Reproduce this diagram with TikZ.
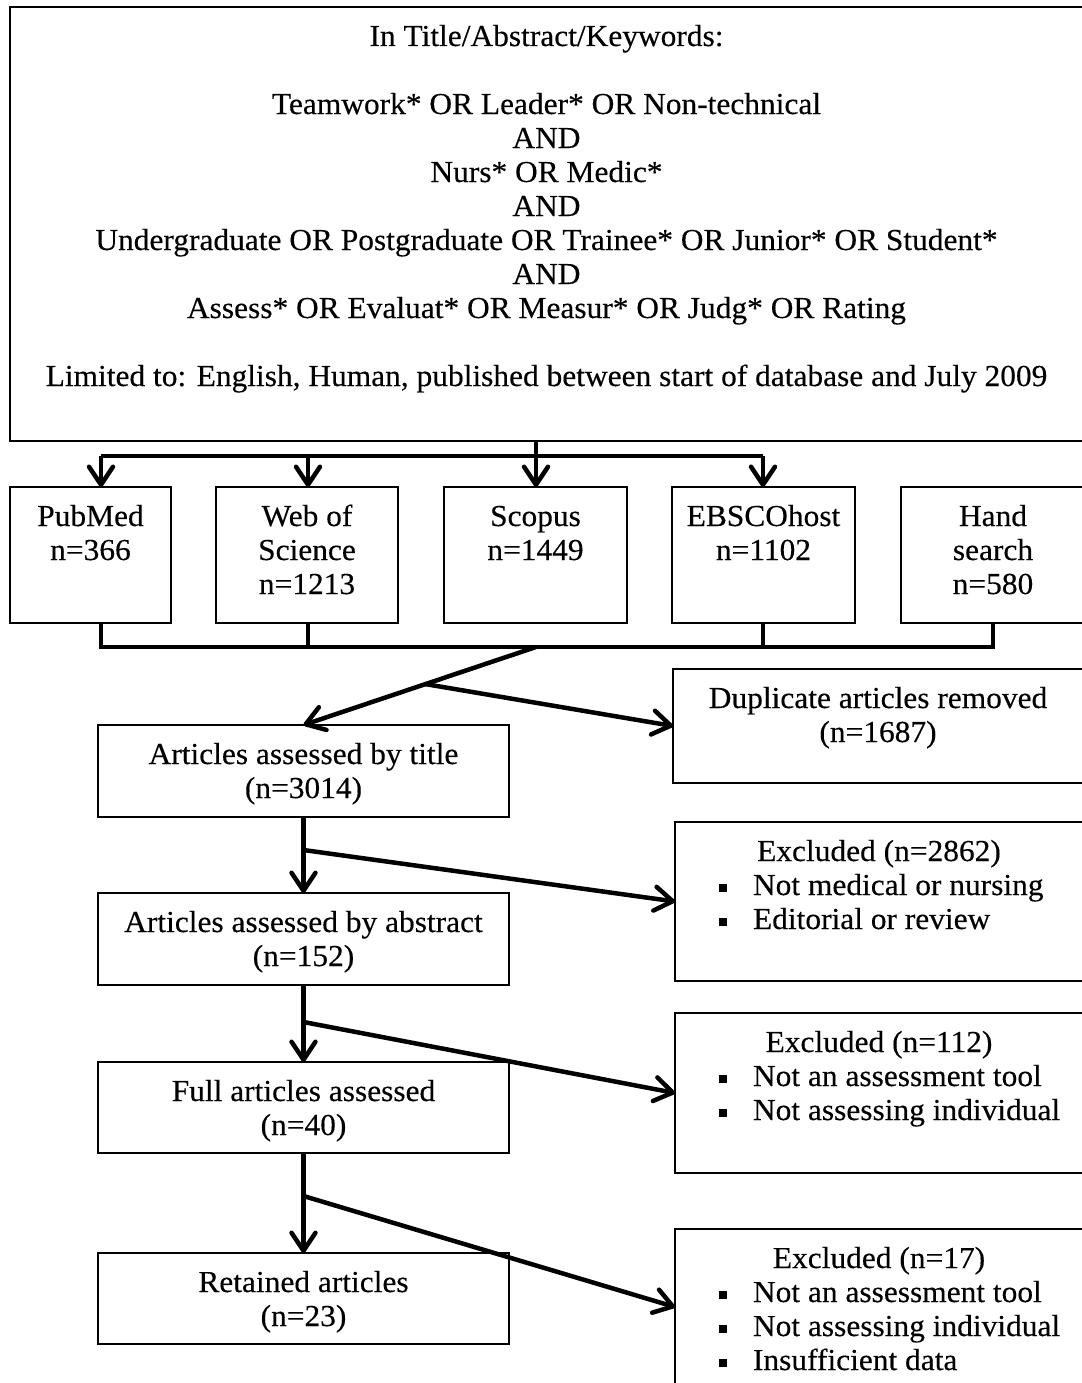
\documentclass[tikz,border=0pt]{standalone}
\usepackage{fontspec}
\setmainfont{Liberation Serif}[FakeStretch=1.03,FakeBold=0.3]
\usetikzlibrary{arrows.meta}
\newcommand\fs{\fontsize{30.5}{34}\selectfont}
\newcommand\bxtext[3]{\parbox[c][#2][t]{#1}{\fs\lineskiplimit=-100pt\centering\rule{0pt}{39pt}#3\par}}
\newcommand\bitem[1]{\par\raggedright\hspace*{44pt}\makebox[34pt][l]{\rule[3pt]{8pt}{8pt}}\mbox{#1}}
\tikzset{
  flowbox/.style={draw=black, line width=1.3pt, inner sep=0pt, outer sep=0pt, anchor=north west},
  conn/.style={line width=4.5pt},
  arr/.style={line width=4.5pt, -{Straight Barb[length=18pt,width=24pt,round]}},
}
\begin{document}
\begin{tikzpicture}[x=1pt,y=-1pt]
\useasboundingbox (0,0) rectangle (1081,1383);
% search box
\node[flowbox] (search) at (10,7) {\bxtext{1073pt}{434pt}{In Title/Abstract/Keywords:\\ \mbox{}\\
Teamwork* OR Leader* OR Non-technical\\ AND\\ Nurs* OR Medic*\\ AND\\
Undergraduate OR Postgraduate OR Trainee* OR Junior* OR Student*\\ AND\\
Assess* OR Evaluat* OR Measur* OR Judg* OR Rating\\ \mbox{}\\
\mbox{Limited to: English, Human, published between start of database and July 2009}}};
% database boxes
\node[flowbox] (pubmed) at (10,487) {\bxtext{161pt}{136pt}{PubMed\\ n=366}};
\node[flowbox] (wos) at (216,487) {\bxtext{182pt}{136pt}{Web of\\ Science\\ n=1213}};
\node[flowbox] (scopus) at (444,487) {\bxtext{183pt}{136pt}{Scopus\\ n=1449}};
\node[flowbox] (ebsco) at (672,487) {\bxtext{183pt}{136pt}{EBSCOhost\\ n=1102}};
\node[flowbox] (hand) at (901,487) {\bxtext{184pt}{136pt}{Hand\\ search\\ n=580}};
% left column
\node[flowbox] (title) at (98,725) {\bxtext{411pt}{92pt}{Articles assessed by title\\ (n=3014)}};
\node[flowbox] (abstract) at (98,893) {\bxtext{411pt}{92pt}{Articles assessed by abstract\\ (n=152)}};
\node[flowbox] (full) at (98,1062) {\bxtext{411pt}{91pt}{Full articles assessed\\ (n=40)}};
\node[flowbox] (retained) at (98,1253) {\bxtext{411pt}{91pt}{Retained articles\\ (n=23)}};
% right column
\node[flowbox] (dup) at (673,669) {\bxtext{410pt}{114pt}{Duplicate articles removed\\ (n=1687)}};
\node[flowbox] (exc1) at (675,822) {\bxtext{408pt}{159pt}{Excluded (n=2862)\bitem{Not medical or nursing}\bitem{Editorial or review}}};
\node[flowbox] (exc2) at (675,1013) {\bxtext{408pt}{160pt}{Excluded (n=112)\bitem{Not an assessment tool}\bitem{Not assessing individual}}};
\node[flowbox] (exc3) at (675,1229) {\bxtext{408pt}{156pt}{Excluded (n=17)\bitem{Not an assessment tool}\bitem{Not assessing individual}\bitem{Insufficient data}}};
% junction coordinates
\coordinate (t0) at (536,456);
\coordinate (t1) at (101,456);
\coordinate (t2) at (308,456);
\coordinate (t4) at (763,456);
\coordinate (b1) at (101,647);
\coordinate (b2) at (308,647);
\coordinate (bm) at (536,647);
\coordinate (b4) at (763,647);
\coordinate (b5) at (993,647);
\coordinate (s0) at (425,684);
\coordinate (s1) at (303.5,850);
\coordinate (s2) at (303.5,1022);
\coordinate (s3) at (303.5,1196);
% top distribution
\draw[conn] (search.south -| t0) -- (t0);
\draw[conn] (t1) -- (t4);
\draw[arr] (t1) -- (t1 |- pubmed.north);
\draw[arr] (t2) -- (t2 |- wos.north);
\draw[arr] (t0) -- (t0 |- scopus.north);
\draw[arr] (t4) -- (t4 |- ebsco.north);
% bottom collection
\draw[conn] (b1 |- pubmed.south) -- (b1) -- (b5) -- (b5 |- hand.south);
\draw[conn] (b2 |- wos.south) -- (b2);
\draw[conn] (b4 |- ebsco.south) -- (b4);
% flow
\draw[arr] (bm) -- (title.north);
\draw[arr] (s0) -- (dup.west);
\draw[arr] (title.south) -- (abstract.north);
\draw[arr] (s1) -- (exc1.west);
\draw[arr] (abstract.south) -- (full.north);
\draw[arr] (s2) -- (exc2.west);
\draw[arr] (full.south) -- (retained.north);
\draw[arr] (s3) -- (exc3.west);
\end{tikzpicture}
\end{document}
